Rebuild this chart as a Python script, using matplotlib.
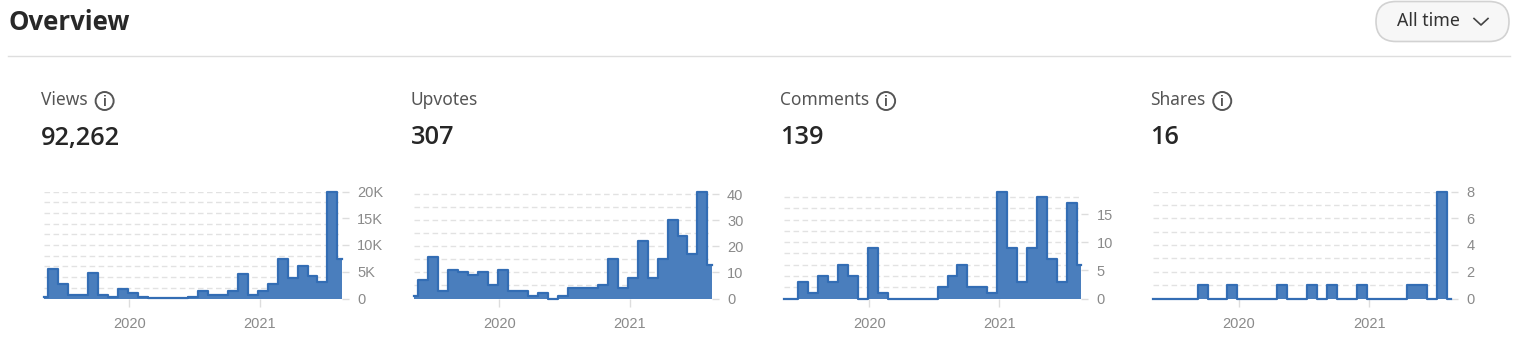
import matplotlib
matplotlib.use("Agg")
import matplotlib.pyplot as plt
import matplotlib.dates as mdates
from matplotlib.patches import FancyBboxPatch, Circle
import pandas as pd
import numpy as np

# ---------------- data ----------------
first_start = "2019-05-06"          # partial first period
period_starts = pd.date_range("2019-05-18", periods=30, freq="28D")
last_end = "2021-08-19"

views    = [200, 5600, 2800, 600, 600, 4700, 600, 300, 1700, 1100, 300, 100, 100, 100, 100,
            300, 1400, 600, 600, 1400, 4500, 600, 1400, 2800, 7300, 3900, 6100, 4200, 3100,
            20000, 7300]
upvotes  = [1, 7, 16, 3, 11, 10, 9, 10, 5, 11, 3, 3, 1, 2, 0, 1, 4, 4, 4, 5, 15, 4, 8, 22,
            8, 15, 30, 24, 17, 41, 13]
comments = [0, 0, 3, 1, 4, 3, 6, 4, 0, 9, 1, 0, 0, 0, 0, 0, 2, 4, 6, 2, 2, 1, 19, 9, 3, 9,
            18, 7, 3, 17, 6]
shares   = [0, 0, 0, 0, 0, 1, 0, 0, 1, 0, 0, 0, 0, 1, 0, 0, 1, 0, 1, 0, 0, 1, 0, 0, 0, 0,
            1, 1, 0, 8, 0]

titles = ["Views", "Upvotes", "Comments", "Shares"]
totals = ["92,262", "307", "139", "16"]
has_info = [True, False, True, True]
year_ticks = ["2020-01-01", "2021-01-01"]
year_labels = ["2020", "2021"]

# ---------------- style ----------------
W, H = 1525, 338
FILL = "#4a7ebd"
LINE = "#336db4"
GRID = "#e2e2e2"
TICKC = "#8a8a8a"
TITLE_FONT = ["Noto Sans", "DejaVu Sans"]
BOLD_FONT = ["Open Sans", "DejaVu Sans"]
AX_FONT = ["Liberation Sans", "DejaVu Sans"]

fig = plt.figure(figsize=(W / 100, H / 100), dpi=100)
fig.patch.set_facecolor("white")

# overlay axes in pixel coordinates
bg = fig.add_axes([0, 0, 1, 1])
bg.set_xlim(0, W)
bg.set_ylim(H, 0)
bg.axis("off")

bg.text(8, 22, "Overview", fontsize=18.5, fontweight="bold", color="#282828",
        family=BOLD_FONT, va="center", ha="left")
bg.plot([8, 1510], [56, 56], color="#dedede", lw=1)

pill = FancyBboxPatch((1376, 1.5), 133, 40, boxstyle="round,pad=0,rounding_size=20",
                      facecolor="#f7f7f7", edgecolor="#d2d2d2", lw=1.2)
bg.add_patch(pill)
bg.text(1397, 21.5, "All time", fontsize=12.8, color="#333333", family=TITLE_FONT,
        va="center", ha="left")
bg.plot([1474, 1481, 1488], [18.5, 25, 18.5], color="#444444", lw=1.2)

panel_x = [41, 411, 780, 1150]
axes_left = [44, 414, 783.7, 1153.4]
axes_w = 297.7
ax_top, ax_bot = 191.5, 298.5

series = [views, upvotes, comments, shares]
grid_steps = [2000, 5, 2, 1]
major_ticks = [[0, 5000, 10000, 15000, 20000], [0, 10, 20, 30, 40], [0, 5, 10, 15], [0, 2, 4, 6, 8]]
major_labels = [["0", "5K", "10K", "15K", "20K"], ["0", "10", "20", "30", "40"],
                ["0", "5", "10", "15"], ["0", "2", "4", "6", "8"]]

x_dates = [pd.Timestamp(first_start)] + list(period_starts) + [pd.Timestamp(last_end)]
x_num = mdates.date2num(x_dates)

for i in range(4):
    px = panel_x[i]
    t = bg.text(px, 100, titles[i], fontsize=12.5, color="#555555", family=TITLE_FONT,
                va="center", ha="left")
    bg.text(px, 138, totals[i], fontsize=18.3, color="#262626", family=BOLD_FONT,
            fontweight="semibold", va="center", ha="left")
    if has_info[i]:
        fig.canvas.draw()
        bb = t.get_window_extent()
        cx = bb.x1 + 17
        circ = Circle((cx, 101), 9, facecolor="none", edgecolor="#555555", lw=1.4)
        bg.add_patch(circ)
        bg.text(cx, 101.5, "i", fontsize=10, color="#555555", family=AX_FONT,
                va="center", ha="center", fontweight="bold")

    ax = fig.add_axes([axes_left[i] / W, 1 - ax_bot / H, axes_w / W, (ax_bot - ax_top) / H])
    ax.patch.set_alpha(0)
    vals = series[i]
    y = list(vals) + [vals[-1]]
    top = max(vals)
    ax.set_ylim(0, top)
    ax.set_xlim(x_num[0], x_num[-1])
    for g in np.arange(0, top + 1e-9, grid_steps[i]):
        ax.axhline(g, color=GRID, lw=1, ls=(0, (4, 2.5)), zorder=0)
    ax.fill_between(x_num, y, step="post", color=FILL, lw=0, zorder=2)
    ax.step(x_num, y, where="post", color=LINE, lw=1.6, zorder=3, clip_on=False)

    for s in ax.spines.values():
        s.set_visible(False)
    ax.yaxis.tick_right()
    ax.set_yticks(major_ticks[i])
    ax.set_yticklabels(major_labels[i])
    ax.set_xticks(mdates.date2num(pd.to_datetime(year_ticks)))
    ax.set_xticklabels(year_labels)
    ax.tick_params(axis="y", length=5, width=1, color="#dddddd", pad=6,
                   labelcolor=TICKC, labelsize=10.5)
    ax.tick_params(axis="x", length=6, width=1, color="#dddddd", pad=7,
                   labelcolor=TICKC, labelsize=10.5)
    for lab in ax.get_xticklabels() + ax.get_yticklabels():
        lab.set_family(AX_FONT)

fig.savefig("out.png", dpi=100, facecolor="white")
